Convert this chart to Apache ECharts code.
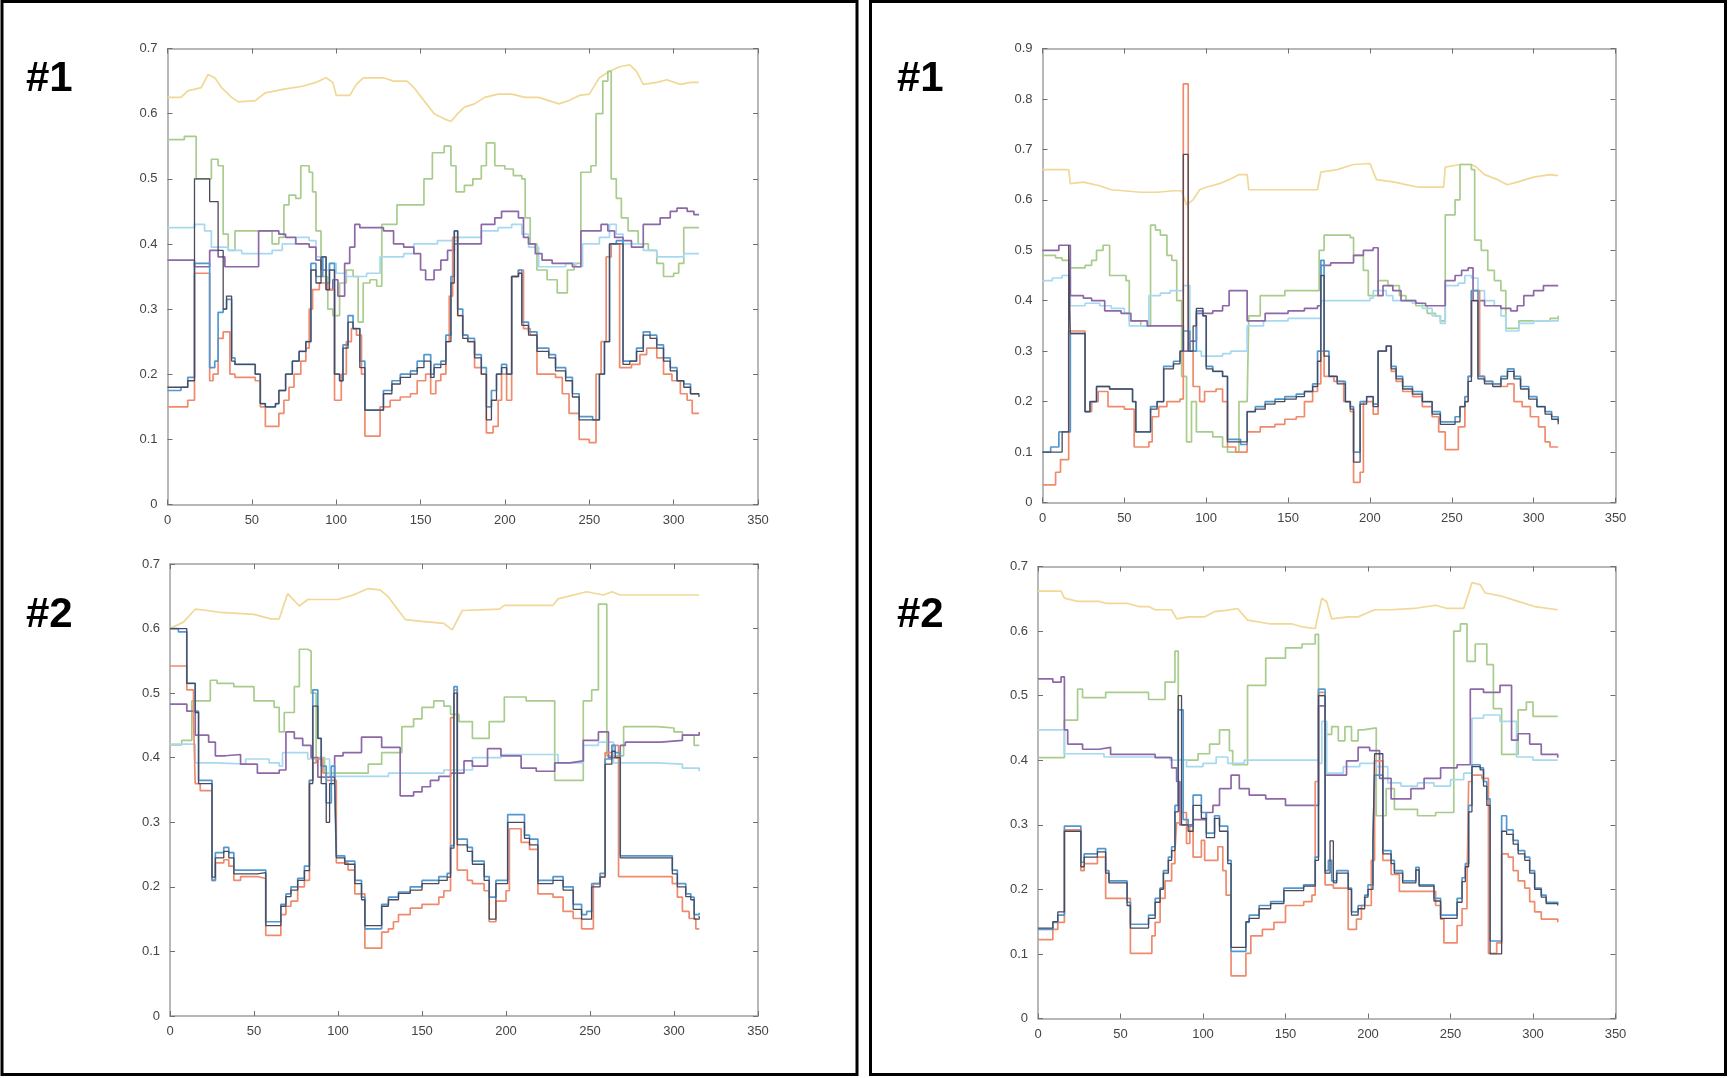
<!DOCTYPE html>
<html><head><meta charset="utf-8">
<script src="https://cdn.jsdelivr.net/npm/echarts@6/dist/echarts.min.js"></script>
<style>html,body{margin:0;padding:0;background:#fff}#c{width:1728px;height:1078px}</style>
</head><body><div id="c"></div>
<script>
// ---------- tick labels / axes ----------
const xTicks = [0,50,100,150,200,250,300,350];
const yMaxTop = [0.7, 0.9];     // panel #1 left, panel #1 right
const yMaxBottom = [0.7, 0.7];  // panel #2 left, panel #2 right
const panelLabels = ['#1','#1','#2','#2'];

// ---------- panel A (top-left) ----------
const aYellow = [[0,0.625],[8,0.625],[12,0.635],[20,0.64],[24,0.66],[28,0.655],[32,0.64],[38,0.625],[42,0.618],[52,0.62],[58,0.632],[70,0.638],[80,0.642],[88,0.648],[94,0.655],[98,0.648],[100,0.628],[108,0.628],[112,0.645],[116,0.655],[128,0.655],[134,0.65],[142,0.65],[146,0.64],[152,0.62],[158,0.6],[164,0.592],[168,0.588],[172,0.6],[176,0.61],[182,0.615],[188,0.625],[196,0.63],[204,0.63],[212,0.625],[220,0.625],[226,0.62],[232,0.615],[238,0.62],[244,0.628],[250,0.63],[256,0.655],[262,0.665],[268,0.672],[274,0.675],[278,0.665],[282,0.645],[290,0.648],[296,0.652],[304,0.645],[310,0.648],[315,0.648]];
const aGreen = [[0,0.56],[10,0.565],[17,0.5],[26,0.53],[30,0.52],[33,0.415],[36,0.39],[40,0.42],[56,0.42],[62,0.4],[66,0.41],[69,0.46],[72,0.475],[76,0.47],[79,0.52],[84,0.51],[86,0.48],[88,0.42],[91,0.35],[95,0.3],[98,0.29],[102,0.34],[106,0.36],[110,0.35],[113,0.28],[116,0.34],[120,0.345],[124,0.335],[127,0.43],[136,0.46],[148,0.46],[152,0.5],[157,0.54],[164,0.55],[168,0.52],[171,0.48],[176,0.49],[181,0.5],[186,0.52],[189,0.555],[194,0.52],[200,0.515],[205,0.505],[210,0.5],[212,0.44],[215,0.4],[219,0.36],[225,0.345],[231,0.325],[237,0.36],[241,0.37],[245,0.51],[251,0.52],[254,0.6],[258,0.65],[261,0.665],[263,0.5],[266,0.47],[269,0.44],[273,0.42],[279,0.4],[285,0.39],[290,0.37],[294,0.35],[300,0.355],[303,0.37],[306,0.425],[315,0.425]];
const aPurple = [[0,0.375],[16,0.365],[25,0.39],[30,0.38],[34,0.365],[54,0.42],[66,0.415],[70,0.41],[76,0.4],[84,0.395],[88,0.375],[91,0.36],[94,0.33],[98,0.345],[101,0.32],[105,0.37],[108,0.395],[111,0.43],[114,0.425],[128,0.42],[134,0.4],[140,0.395],[146,0.385],[150,0.36],[153,0.345],[158,0.36],[162,0.375],[166,0.39],[170,0.4],[186,0.43],[194,0.44],[198,0.45],[208,0.44],[211,0.41],[214,0.4],[218,0.385],[222,0.375],[228,0.37],[240,0.365],[245,0.42],[257,0.43],[261,0.42],[265,0.41],[270,0.405],[275,0.395],[282,0.43],[292,0.44],[298,0.45],[302,0.455],[308,0.45],[312,0.445],[315,0.445]];
const aCyan = [[0,0.425],[16,0.43],[22,0.42],[26,0.395],[36,0.39],[44,0.385],[62,0.39],[68,0.4],[76,0.41],[84,0.405],[88,0.38],[92,0.36],[96,0.37],[100,0.355],[106,0.35],[112,0.35],[118,0.355],[126,0.38],[140,0.385],[146,0.4],[160,0.405],[172,0.41],[186,0.42],[196,0.425],[204,0.43],[210,0.415],[214,0.395],[220,0.365],[236,0.37],[242,0.365],[246,0.4],[256,0.41],[262,0.43],[266,0.415],[270,0.4],[282,0.39],[290,0.38],[300,0.38],[306,0.385],[315,0.385]];
const aBlue = [[0,0.175],[8,0.18],[12,0.195],[16,0.37],[25,0.21],[28,0.22],[30,0.295],[33,0.3],[35,0.315],[38,0.225],[40,0.215],[52,0.2],[55,0.155],[58,0.15],[64,0.155],[66,0.175],[70,0.2],[74,0.22],[78,0.235],[82,0.25],[85,0.37],[88,0.35],[92,0.38],[94,0.34],[96,0.37],[99,0.2],[102,0.19],[104,0.245],[107,0.29],[110,0.27],[114,0.22],[117,0.145],[125,0.145],[128,0.175],[133,0.19],[138,0.2],[144,0.205],[148,0.22],[152,0.23],[156,0.2],[158,0.215],[162,0.22],[165,0.26],[168,0.35],[170,0.42],[172,0.3],[175,0.26],[178,0.255],[182,0.23],[186,0.21],[189,0.15],[192,0.175],[195,0.2],[198,0.215],[201,0.2],[204,0.35],[208,0.36],[210,0.28],[214,0.265],[219,0.24],[226,0.23],[230,0.21],[236,0.195],[240,0.17],[244,0.135],[252,0.13],[256,0.2],[259,0.25],[262,0.4],[266,0.405],[270,0.22],[274,0.22],[278,0.24],[282,0.265],[286,0.26],[290,0.245],[294,0.225],[298,0.21],[302,0.19],[306,0.185],[310,0.17],[315,0.17]];
const aDark = [[0,0.18],[12,0.19],[16,0.5],[25,0.465],[30,0.39],[33,0.3],[35,0.32],[38,0.22],[40,0.215],[52,0.2],[55,0.155],[58,0.15],[64,0.155],[66,0.175],[70,0.2],[74,0.22],[78,0.235],[82,0.25],[85,0.36],[88,0.34],[91,0.38],[94,0.33],[96,0.36],[99,0.2],[102,0.19],[104,0.24],[107,0.28],[110,0.27],[114,0.21],[117,0.145],[125,0.145],[128,0.17],[133,0.185],[138,0.195],[144,0.2],[148,0.21],[152,0.22],[156,0.195],[158,0.21],[162,0.215],[165,0.25],[168,0.34],[170,0.42],[172,0.29],[175,0.255],[178,0.25],[182,0.225],[186,0.2],[189,0.13],[192,0.16],[195,0.2],[198,0.21],[201,0.2],[204,0.35],[208,0.355],[210,0.275],[214,0.26],[219,0.235],[226,0.225],[230,0.205],[236,0.19],[240,0.165],[244,0.13],[252,0.13],[256,0.2],[259,0.25],[262,0.4],[266,0.4],[270,0.215],[274,0.22],[278,0.235],[282,0.26],[286,0.255],[290,0.24],[294,0.22],[298,0.205],[302,0.19],[306,0.18],[310,0.17],[315,0.165]];
const aRed = [[0,0.15],[12,0.16],[16,0.355],[25,0.19],[27,0.2],[30,0.255],[33,0.265],[37,0.2],[40,0.195],[52,0.19],[55,0.15],[58,0.12],[66,0.14],[69,0.16],[72,0.18],[75,0.2],[79,0.22],[82,0.24],[84,0.3],[86,0.33],[90,0.34],[95,0.33],[99,0.16],[103,0.2],[106,0.25],[109,0.27],[112,0.26],[115,0.2],[117,0.105],[126,0.15],[132,0.16],[138,0.165],[144,0.17],[148,0.19],[153,0.2],[156,0.17],[159,0.19],[162,0.2],[165,0.25],[167,0.32],[169,0.41],[172,0.29],[175,0.26],[178,0.25],[182,0.21],[186,0.2],[189,0.11],[193,0.12],[196,0.16],[198,0.2],[201,0.16],[204,0.35],[208,0.36],[211,0.27],[215,0.26],[219,0.2],[230,0.195],[234,0.17],[238,0.14],[244,0.1],[250,0.095],[254,0.2],[257,0.25],[260,0.38],[263,0.4],[268,0.21],[275,0.215],[280,0.23],[284,0.24],[290,0.225],[294,0.2],[299,0.19],[304,0.17],[308,0.16],[311,0.14],[315,0.14]];

// ---------- panel B (top-right) ----------
const bYellow = [[0,0.66],[16,0.66],[17,0.632],[25,0.635],[35,0.628],[42,0.62],[60,0.615],[70,0.615],[80,0.618],[85,0.618],[88,0.59],[92,0.6],[96,0.62],[100,0.625],[108,0.632],[114,0.64],[120,0.65],[125,0.65],[126,0.62],[168,0.62],[170,0.655],[180,0.66],[190,0.67],[200,0.672],[204,0.64],[215,0.635],[222,0.63],[230,0.625],[245,0.625],[246,0.665],[255,0.67],[262,0.67],[265,0.665],[270,0.65],[278,0.64],[284,0.63],[290,0.635],[300,0.645],[310,0.65],[315,0.648]];
const bGreen = [[0,0.49],[8,0.485],[12,0.48],[17,0.465],[26,0.47],[30,0.48],[33,0.5],[37,0.51],[41,0.45],[51,0.44],[53,0.36],[60,0.35],[66,0.55],[69,0.54],[72,0.53],[76,0.49],[79,0.48],[82,0.4],[85,0.25],[88,0.12],[91,0.2],[94,0.14],[104,0.13],[110,0.11],[113,0.1],[120,0.2],[125,0.2],[126,0.37],[133,0.41],[148,0.42],[166,0.42],[169,0.5],[172,0.53],[188,0.525],[190,0.49],[196,0.46],[199,0.41],[205,0.44],[211,0.43],[218,0.41],[222,0.4],[228,0.39],[235,0.375],[240,0.37],[243,0.36],[246,0.57],[252,0.6],[255,0.67],[262,0.66],[264,0.52],[268,0.5],[272,0.46],[276,0.44],[280,0.42],[283,0.345],[291,0.36],[300,0.36],[310,0.365],[315,0.37]];
const bPurple = [[0,0.5],[10,0.51],[17,0.41],[25,0.405],[30,0.4],[38,0.38],[48,0.375],[54,0.36],[64,0.35],[86,0.3],[90,0.32],[94,0.375],[104,0.38],[110,0.39],[114,0.42],[125,0.36],[136,0.375],[150,0.38],[160,0.385],[168,0.39],[170,0.47],[176,0.475],[190,0.49],[196,0.5],[202,0.505],[205,0.41],[208,0.43],[214,0.42],[219,0.4],[228,0.395],[234,0.39],[246,0.44],[252,0.45],[256,0.46],[260,0.465],[263,0.4],[270,0.39],[280,0.385],[286,0.38],[290,0.39],[294,0.41],[300,0.42],[306,0.43],[315,0.43]];
const bCyan = [[0,0.44],[6,0.445],[12,0.45],[17,0.39],[26,0.395],[35,0.39],[42,0.385],[50,0.375],[53,0.35],[65,0.41],[72,0.415],[78,0.42],[86,0.43],[90,0.3],[97,0.29],[110,0.295],[115,0.3],[125,0.35],[135,0.36],[150,0.365],[168,0.365],[170,0.4],[200,0.405],[202,0.42],[210,0.41],[214,0.4],[226,0.395],[232,0.385],[238,0.37],[243,0.355],[246,0.43],[254,0.435],[258,0.45],[262,0.445],[266,0.42],[270,0.4],[276,0.39],[280,0.37],[283,0.34],[291,0.355],[300,0.36],[315,0.365]];
const bBlue = [[0,0.1],[5,0.11],[10,0.14],[17,0.335],[26,0.18],[29,0.2],[33,0.23],[41,0.225],[55,0.2],[57,0.14],[66,0.19],[70,0.2],[74,0.27],[80,0.28],[84,0.3],[86,0.34],[90,0.3],[94,0.38],[98,0.37],[100,0.27],[104,0.26],[110,0.25],[113,0.125],[121,0.115],[125,0.18],[130,0.19],[136,0.2],[142,0.205],[148,0.21],[155,0.215],[160,0.22],[165,0.235],[168,0.3],[170,0.48],[172,0.3],[175,0.25],[180,0.24],[185,0.2],[188,0.19],[190,0.1],[194,0.2],[198,0.21],[202,0.195],[205,0.3],[210,0.31],[213,0.27],[216,0.25],[220,0.23],[226,0.22],[232,0.2],[238,0.18],[243,0.16],[252,0.17],[255,0.19],[258,0.21],[260,0.25],[262,0.42],[266,0.25],[270,0.24],[275,0.235],[280,0.25],[284,0.265],[288,0.25],[292,0.23],[297,0.21],[302,0.19],[307,0.18],[311,0.17],[315,0.16]];
const bDark = [[0,0.1],[12,0.14],[16,0.51],[17,0.335],[26,0.18],[29,0.2],[33,0.23],[41,0.225],[55,0.2],[57,0.14],[66,0.185],[70,0.2],[74,0.265],[80,0.275],[84,0.3],[86,0.69],[89,0.3],[92,0.35],[94,0.385],[98,0.37],[100,0.265],[104,0.26],[110,0.25],[113,0.12],[121,0.12],[125,0.18],[130,0.185],[136,0.195],[142,0.2],[148,0.205],[155,0.21],[160,0.22],[165,0.23],[168,0.28],[170,0.45],[172,0.29],[175,0.25],[180,0.235],[185,0.2],[188,0.185],[190,0.08],[194,0.195],[198,0.21],[202,0.19],[205,0.3],[210,0.31],[213,0.265],[216,0.245],[220,0.225],[226,0.215],[232,0.2],[238,0.175],[243,0.155],[252,0.16],[255,0.19],[258,0.2],[260,0.24],[262,0.4],[266,0.245],[270,0.235],[275,0.23],[280,0.245],[284,0.26],[288,0.245],[292,0.225],[297,0.205],[302,0.19],[307,0.175],[311,0.165],[315,0.155]];
const bRed = [[0,0.035],[8,0.06],[11,0.085],[16,0.34],[26,0.18],[30,0.2],[34,0.22],[40,0.19],[50,0.185],[56,0.11],[65,0.12],[67,0.17],[71,0.19],[76,0.2],[84,0.205],[86,0.83],[89,0.3],[92,0.23],[96,0.2],[99,0.22],[106,0.225],[110,0.2],[113,0.11],[118,0.1],[125,0.14],[133,0.15],[142,0.155],[148,0.165],[155,0.17],[160,0.2],[165,0.22],[168,0.235],[170,0.3],[172,0.25],[178,0.24],[184,0.2],[188,0.18],[190,0.04],[194,0.06],[196,0.2],[200,0.2],[202,0.175],[205,0.3],[210,0.31],[213,0.26],[216,0.24],[220,0.22],[226,0.21],[232,0.19],[238,0.17],[242,0.14],[246,0.105],[254,0.15],[258,0.2],[260,0.25],[262,0.42],[267,0.25],[270,0.24],[275,0.235],[280,0.23],[284,0.235],[288,0.2],[293,0.19],[298,0.17],[303,0.15],[307,0.12],[310,0.11],[315,0.11]];

// ---------- panel C (bottom-left) ----------
const cYellow = [[0,0.6],[8,0.61],[15,0.63],[22,0.628],[30,0.625],[50,0.622],[60,0.615],[65,0.615],[70,0.654],[77,0.635],[82,0.645],[100,0.645],[109,0.652],[118,0.662],[125,0.66],[130,0.649],[140,0.614],[150,0.611],[163,0.608],[168,0.598],[174,0.628],[196,0.63],[199,0.636],[228,0.636],[231,0.646],[248,0.657],[258,0.652],[263,0.657],[268,0.652],[315,0.652]];
const cGreen = [[0,0.42],[7,0.427],[13,0.488],[24,0.52],[28,0.515],[38,0.51],[50,0.488],[62,0.478],[65,0.44],[68,0.47],[74,0.51],[77,0.568],[82,0.565],[84,0.5],[87,0.4],[92,0.376],[116,0.376],[118,0.39],[126,0.408],[138,0.448],[145,0.46],[150,0.478],[157,0.488],[163,0.48],[167,0.467],[172,0.456],[180,0.43],[190,0.456],[199,0.494],[212,0.488],[229,0.365],[246,0.488],[251,0.505],[255,0.638],[258,0.638],[260,0.403],[270,0.448],[290,0.446],[300,0.44],[305,0.435],[312,0.419],[315,0.419]];
const cPurple = [[0,0.483],[10,0.472],[15,0.435],[23,0.424],[27,0.403],[33,0.405],[42,0.39],[52,0.376],[65,0.381],[69,0.44],[74,0.43],[79,0.419],[84,0.4],[88,0.37],[98,0.403],[103,0.408],[114,0.432],[126,0.416],[137,0.341],[145,0.347],[150,0.355],[155,0.365],[160,0.371],[167,0.376],[175,0.395],[180,0.387],[189,0.414],[197,0.403],[209,0.384],[218,0.379],[229,0.392],[238,0.395],[246,0.427],[255,0.44],[261,0.4],[268,0.419],[271,0.424],[292,0.427],[305,0.435],[315,0.44]];
const cCyan = [[0,0.421],[15,0.392],[28,0.39],[45,0.398],[59,0.392],[65,0.387],[67,0.408],[82,0.398],[95,0.371],[130,0.376],[163,0.381],[180,0.4],[197,0.405],[231,0.392],[246,0.419],[255,0.424],[264,0.392],[290,0.39],[305,0.384],[315,0.379]];
const cBlue = [[0,0.6],[5,0.595],[10,0.515],[15,0.472],[17,0.365],[25,0.21],[27,0.253],[32,0.261],[35,0.253],[38,0.226],[52,0.226],[57,0.146],[66,0.173],[69,0.189],[72,0.2],[76,0.213],[80,0.232],[83,0.365],[85,0.505],[88,0.43],[90,0.387],[93,0.33],[96,0.387],[98,0.365],[99,0.248],[104,0.24],[110,0.21],[114,0.184],[116,0.135],[126,0.173],[130,0.184],[136,0.192],[143,0.2],[150,0.21],[160,0.216],[165,0.221],[167,0.264],[169,0.51],[171,0.274],[177,0.261],[180,0.24],[187,0.216],[190,0.184],[194,0.21],[201,0.312],[211,0.28],[214,0.274],[219,0.21],[228,0.216],[234,0.2],[240,0.173],[245,0.157],[248,0.162],[251,0.205],[256,0.221],[259,0.398],[263,0.419],[265,0.408],[268,0.248],[295,0.248],[299,0.226],[302,0.205],[307,0.189],[310,0.184],[312,0.157],[315,0.16]];
const cDark = [[0,0.6],[10,0.515],[15,0.47],[17,0.36],[25,0.215],[27,0.245],[32,0.255],[35,0.245],[38,0.22],[52,0.222],[57,0.14],[66,0.17],[69,0.185],[72,0.195],[76,0.21],[80,0.225],[83,0.36],[85,0.48],[88,0.43],[90,0.36],[93,0.3],[95,0.36],[98,0.37],[99,0.245],[104,0.235],[110,0.205],[114,0.18],[116,0.14],[126,0.17],[130,0.18],[136,0.19],[143,0.195],[150,0.205],[160,0.21],[165,0.215],[167,0.26],[169,0.5],[171,0.265],[177,0.255],[180,0.235],[187,0.21],[190,0.15],[194,0.205],[201,0.3],[211,0.275],[214,0.265],[219,0.205],[228,0.21],[234,0.195],[240,0.165],[245,0.15],[251,0.2],[256,0.215],[259,0.39],[263,0.41],[265,0.4],[268,0.245],[295,0.245],[299,0.22],[302,0.2],[307,0.185],[310,0.18],[312,0.15],[315,0.155]];
const cRed = [[0,0.542],[10,0.505],[14,0.462],[15,0.36],[18,0.349],[25,0.21],[27,0.237],[32,0.242],[35,0.232],[38,0.21],[42,0.216],[52,0.213],[57,0.125],[66,0.157],[69,0.17],[72,0.178],[76,0.2],[80,0.21],[83,0.365],[85,0.392],[87,0.398],[91,0.376],[93,0.365],[99,0.237],[106,0.226],[110,0.189],[116,0.105],[126,0.13],[130,0.135],[133,0.146],[136,0.157],[143,0.167],[150,0.173],[160,0.184],[163,0.194],[167,0.462],[169,0.505],[171,0.226],[177,0.21],[180,0.205],[187,0.194],[190,0.146],[194,0.178],[200,0.194],[202,0.29],[209,0.269],[214,0.258],[219,0.189],[228,0.184],[234,0.162],[240,0.151],[245,0.135],[252,0.205],[256,0.216],[259,0.408],[263,0.419],[267,0.216],[295,0.216],[299,0.205],[302,0.184],[305,0.162],[309,0.151],[313,0.135],[315,0.135]];

// ---------- panel D (bottom-right) ----------
const dYellow = [[0,0.662],[14,0.662],[16,0.651],[24,0.646],[37,0.646],[41,0.643],[54,0.643],[61,0.638],[67,0.638],[71,0.633],[81,0.633],[84,0.619],[91,0.622],[101,0.622],[107,0.63],[114,0.632],[121,0.635],[127,0.617],[141,0.611],[154,0.611],[161,0.606],[168,0.604],[172,0.651],[175,0.645],[178,0.619],[188,0.622],[194,0.622],[204,0.633],[214,0.633],[228,0.635],[241,0.64],[248,0.635],[258,0.635],[263,0.675],[268,0.672],[271,0.659],[281,0.654],[291,0.646],[301,0.638],[315,0.633]];
const dGreen = [[0,0.404],[14,0.404],[16,0.462],[24,0.51],[27,0.497],[37,0.497],[41,0.505],[67,0.494],[77,0.521],[83,0.569],[85,0.4],[94,0.4],[97,0.41],[104,0.425],[110,0.447],[113,0.447],[116,0.415],[118,0.393],[127,0.516],[138,0.558],[150,0.574],[160,0.58],[168,0.595],[170,0.5],[174,0.44],[178,0.452],[182,0.43],[186,0.452],[190,0.43],[194,0.447],[197,0.45],[205,0.314],[211,0.356],[216,0.324],[230,0.314],[241,0.319],[252,0.6],[256,0.611],[260,0.553],[265,0.58],[272,0.548],[276,0.48],[281,0.409],[291,0.478],[296,0.49],[300,0.468],[315,0.468]];
const dPurple = [[0,0.526],[9,0.521],[14,0.529],[16,0.447],[18,0.425],[27,0.417],[37,0.42],[44,0.409],[71,0.404],[81,0.388],[84,0.367],[86,0.3],[94,0.308],[102,0.319],[106,0.33],[110,0.356],[117,0.377],[122,0.356],[128,0.346],[138,0.34],[150,0.33],[170,0.484],[174,0.377],[187,0.399],[194,0.42],[201,0.415],[207,0.372],[214,0.34],[226,0.356],[234,0.372],[244,0.388],[254,0.393],[262,0.51],[270,0.505],[280,0.516],[287,0.431],[291,0.441],[298,0.425],[305,0.409],[315,0.404]];
const dCyan = [[0,0.447],[16,0.41],[40,0.405],[80,0.4],[90,0.39],[100,0.395],[108,0.405],[115,0.395],[125,0.4],[170,0.395],[172,0.46],[175,0.38],[185,0.39],[195,0.395],[205,0.39],[212,0.365],[220,0.36],[230,0.365],[240,0.36],[250,0.37],[258,0.38],[263,0.465],[270,0.47],[280,0.46],[290,0.405],[300,0.4],[315,0.4]];
const dBlue = [[0,0.138],[9,0.149],[12,0.16],[16,0.298],[26,0.242],[28,0.255],[36,0.263],[41,0.229],[43,0.213],[54,0.18],[56,0.146],[67,0.16],[71,0.186],[74,0.202],[76,0.229],[79,0.25],[81,0.266],[83,0.33],[85,0.478],[88,0.308],[91,0.298],[94,0.346],[99,0.319],[102,0.287],[107,0.314],[110,0.298],[115,0.245],[117,0.104],[126,0.149],[128,0.16],[134,0.175],[141,0.181],[149,0.202],[161,0.207],[168,0.25],[170,0.51],[174,0.229],[176,0.245],[178,0.213],[181,0.229],[188,0.202],[190,0.165],[194,0.175],[198,0.191],[200,0.207],[203,0.276],[204,0.377],[209,0.26],[214,0.245],[216,0.229],[221,0.213],[229,0.234],[231,0.207],[240,0.186],[244,0.16],[254,0.186],[257,0.218],[259,0.24],[261,0.33],[263,0.393],[268,0.388],[270,0.367],[272,0.34],[274,0.12],[281,0.314],[284,0.292],[288,0.276],[291,0.26],[295,0.25],[298,0.229],[301,0.202],[305,0.191],[308,0.18],[315,0.178]];
const dDark = [[0,0.14],[9,0.15],[12,0.165],[16,0.29],[26,0.235],[28,0.25],[36,0.258],[41,0.225],[43,0.21],[54,0.175],[56,0.14],[67,0.155],[71,0.18],[74,0.2],[76,0.225],[79,0.245],[81,0.26],[83,0.32],[85,0.5],[87,0.3],[91,0.29],[94,0.33],[99,0.31],[102,0.28],[107,0.31],[110,0.29],[115,0.24],[117,0.11],[126,0.15],[128,0.155],[134,0.17],[141,0.178],[149,0.198],[161,0.205],[168,0.245],[170,0.5],[174,0.225],[177,0.275],[179,0.21],[181,0.225],[188,0.2],[190,0.16],[194,0.17],[198,0.188],[200,0.2],[203,0.27],[204,0.41],[209,0.255],[214,0.24],[216,0.225],[221,0.21],[229,0.23],[231,0.205],[240,0.182],[244,0.155],[254,0.18],[257,0.212],[259,0.235],[261,0.32],[263,0.39],[268,0.385],[270,0.36],[272,0.33],[274,0.1],[281,0.29],[284,0.285],[288,0.27],[291,0.255],[295,0.245],[298,0.225],[301,0.2],[305,0.188],[308,0.178],[315,0.175]];
const dRed = [[0,0.122],[9,0.138],[12,0.149],[16,0.292],[26,0.229],[28,0.24],[36,0.25],[41,0.186],[56,0.101],[69,0.128],[71,0.149],[74,0.186],[77,0.213],[81,0.24],[83,0.26],[84,0.303],[86,0.319],[90,0.271],[92,0.298],[94,0.25],[99,0.276],[101,0.245],[109,0.266],[112,0.229],[114,0.191],[117,0.066],[126,0.101],[129,0.128],[136,0.138],[143,0.149],[150,0.175],[161,0.181],[166,0.191],[168,0.367],[170,0.505],[174,0.207],[179,0.202],[188,0.138],[193,0.154],[196,0.175],[202,0.245],[204,0.399],[209,0.245],[214,0.223],[219,0.197],[238,0.197],[241,0.175],[244,0.154],[246,0.117],[254,0.144],[257,0.17],[260,0.207],[261,0.367],[263,0.377],[269,0.372],[273,0.101],[278,0.117],[281,0.255],[285,0.25],[288,0.229],[291,0.213],[295,0.202],[298,0.181],[301,0.165],[305,0.154],[315,0.149]];

// ---------- assembly ----------
const colors = {yellow:'#f2d896', green:'#a8cc8c', purple:'#8c68a8', cyan:'#a6d9f0', blue:'#5298d0', dark:'#4c4a5a', red:'#f08a6c'};
const panels = [
  {grid:{left:167.5, top:48.5, width:590.5, height:456}, ymax:yMaxTop[0], s:{yellow:aYellow, green:aGreen, cyan:aCyan, purple:aPurple, red:aRed, blue:aBlue, dark:aDark}},
  {grid:{left:1042.5, top:48.5, width:573, height:454}, ymax:yMaxTop[1], s:{yellow:bYellow, green:bGreen, cyan:bCyan, purple:bPurple, red:bRed, blue:bBlue, dark:bDark}},
  {grid:{left:170, top:564, width:588, height:452}, ymax:yMaxBottom[0], s:{yellow:cYellow, green:cGreen, cyan:cCyan, purple:cPurple, red:cRed, blue:cBlue, dark:cDark}},
  {grid:{left:1038, top:566.5, width:577.5, height:452}, ymax:yMaxBottom[1], s:{yellow:dYellow, green:dGreen, cyan:dCyan, purple:dPurple, red:dRed, blue:dBlue, dark:dDark}}
];
const axisColor = '#a0a0a0';
const labelStyle = {color:'#444', fontSize:13, fontFamily:'Liberation Sans, Arial, sans-serif'};
const grids=[], xAxes=[], yAxes=[], series=[];
panels.forEach((p,i)=>{
  grids.push(Object.assign({containLabel:false, show:false}, p.grid));
  const xb = {type:'value', gridIndex:i, min:xTicks[0], max:xTicks[xTicks.length-1], interval:50,
    axisLine:{show:true, onZero:false, lineStyle:{color:axisColor, width:1.5}},
    axisTick:{show:true, inside:true, length:5, lineStyle:{color:'#707070'}},
    splitLine:{show:false}};
  xAxes.push(Object.assign({}, xb, {position:'bottom', axisLabel:Object.assign({margin:9}, labelStyle)}));
  xAxes.push(Object.assign({}, xb, {position:'top', axisLabel:{show:false}}));
  const yb = {type:'value', gridIndex:i, min:0, max:p.ymax, interval:0.1,
    axisLine:{show:true, onZero:false, lineStyle:{color:axisColor, width:1.5}},
    axisTick:{show:true, inside:true, length:5, lineStyle:{color:'#707070'}},
    splitLine:{show:false}};
  yAxes.push(Object.assign({}, yb, {position:'left', axisLabel:Object.assign({margin:10, formatter:v=>v===0?'0':String(+v.toFixed(1))}, labelStyle)}));
  yAxes.push(Object.assign({}, yb, {position:'right', axisLabel:{show:false}}));
  ['yellow','green','cyan','purple','red','blue','dark'].forEach(k=>{
    series.push({type:'line', xAxisIndex:2*i, yAxisIndex:2*i, data:p.s[k],
      step: k==='yellow' ? false : 'end', showSymbol:false, silent:true,
      lineStyle:{color:colors[k], width: k==='dark'?1.3:1.7}, itemStyle:{color:colors[k]}});
  });
});
const labelFont = 'bold 42px "Liberation Sans Narrow", "Arial Narrow", "Liberation Sans", sans-serif';
const graphic = [
  {type:'rect', shape:{x:2, y:1.5, width:855, height:1073}, style:{fill:'none', stroke:'#000', lineWidth:3}},
  {type:'rect', shape:{x:870.5, y:1.5, width:855, height:1073}, style:{fill:'none', stroke:'#000', lineWidth:3}},
  {type:'text', left:26, top:58, style:{text:panelLabels[0], font:labelFont, fill:'#000'}},
  {type:'text', left:897, top:58, style:{text:panelLabels[1], font:labelFont, fill:'#000'}},
  {type:'text', left:26, top:594, style:{text:panelLabels[2], font:labelFont, fill:'#000'}},
  {type:'text', left:897, top:594, style:{text:panelLabels[3], font:labelFont, fill:'#000'}}
];
const chart = echarts.init(document.getElementById('c'), null, {renderer:'canvas'});
chart.setOption({animation:false, backgroundColor:'#fff', grid:grids, xAxis:xAxes, yAxis:yAxes, series:series, graphic:graphic});
</script></body></html>
